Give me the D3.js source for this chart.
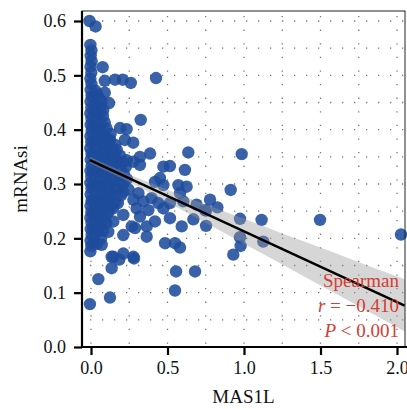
<!DOCTYPE html>
<html>
<head>
<meta charset="utf-8">
<script src="https://cdn.jsdelivr.net/npm/d3@7"></script>
<style>
  body { margin: 0; background: #fff; }
  svg text { font-family: "Liberation Serif", "DejaVu Serif", serif; }
</style>
</head>
<body>
<svg width="407" height="409"></svg>
<script>
// MAS1L (x) vs mRNAsi (y)
let pts = [
  // top pair
  [-0.010,0.600],[0.030,0.590],
  // column at zero
  [-0.004,0.556],[0.003,0.546],[-0.002,0.536],[0.004,0.526],[-0.003,0.516],[0.002,0.505],
  [-0.004,0.494],[0.003,0.484],[-0.002,0.473],[0.004,0.462],[-0.003,0.452],[0.002,0.441],
  [-0.004,0.430],[0.003,0.420],[-0.002,0.409],[0.004,0.398],[-0.003,0.388],[0.002,0.377],
  [-0.004,0.366],[0.003,0.356],[-0.002,0.345],[0.004,0.334],[-0.003,0.324],[0.002,0.313],
  [-0.004,0.302],[0.003,0.292],[-0.002,0.281],[0.004,0.270],[-0.003,0.260],[0.002,0.249],
  [-0.004,0.238],[0.003,0.228],[-0.002,0.217],[0.004,0.206],[-0.003,0.196],[0.002,0.186],
  [-0.004,0.176],
  // dense cloud next to the column
  [0.015,0.460],[0.016,0.435],[0.014,0.405],[0.015,0.380],[0.016,0.352],[0.014,0.325],
  [0.015,0.298],[0.016,0.270],[0.014,0.245],[0.015,0.218],[0.016,0.192],
  [0.028,0.472],[0.032,0.445],[0.025,0.418],[0.035,0.392],[0.028,0.366],[0.033,0.338],
  [0.026,0.312],[0.034,0.286],[0.027,0.258],[0.032,0.232],[0.026,0.206],
  [0.040,0.465],[0.041,0.432],[0.039,0.405],[0.042,0.378],[0.040,0.350],[0.041,0.323],
  [0.039,0.296],[0.042,0.268],[0.040,0.242],[0.041,0.215],[0.039,0.190],
  [0.052,0.458],[0.048,0.430],[0.055,0.404],[0.047,0.378],[0.054,0.352],[0.049,0.326],
  [0.056,0.298],[0.050,0.272],[0.053,0.246],[0.047,0.220],
  [0.065,0.440],[0.066,0.410],[0.064,0.385],[0.066,0.358],[0.065,0.332],[0.064,0.306],
  [0.066,0.279],[0.065,0.252],[0.064,0.226],[0.066,0.200],
  [0.078,0.425],[0.072,0.398],[0.080,0.372],[0.074,0.346],[0.079,0.320],[0.073,0.293],
  [0.080,0.266],[0.075,0.240],[0.078,0.214],
  [0.090,0.413],[0.091,0.388],[0.089,0.360],[0.090,0.333],[0.092,0.308],[0.089,0.282],
  [0.091,0.256],[0.090,0.232],
  [0.102,0.402],[0.097,0.375],[0.104,0.350],[0.098,0.322],[0.103,0.296],[0.099,0.270],
  [0.105,0.245],[0.100,0.228],
  [0.115,0.380],[0.116,0.353],[0.114,0.326],[0.116,0.300],[0.115,0.275],[0.114,0.250],
  [0.128,0.392],[0.133,0.365],[0.126,0.338],[0.134,0.310],[0.127,0.284],[0.132,0.258],
  [0.145,0.360],[0.146,0.333],[0.144,0.306],[0.146,0.280],[0.145,0.255],
  [0.158,0.372],[0.163,0.346],[0.156,0.320],[0.162,0.293],[0.157,0.266],
  [0.175,0.340],[0.176,0.315],[0.174,0.290],[0.176,0.265],
  [0.190,0.352],[0.195,0.327],[0.188,0.302],[0.196,0.279],
  [0.210,0.340],[0.211,0.300],[0.209,0.285],
  [0.228,0.332],[0.235,0.309],[0.245,0.290],[0.215,0.318],
  // scattered points
  [0.076,0.515],[0.090,0.490],[0.157,0.492],[0.207,0.492],[0.260,0.486],[0.425,0.495],
  [0.090,0.468],[0.118,0.449],[0.070,0.452],[0.046,0.431],[0.080,0.436],[0.325,0.418],
  [0.190,0.403],[0.233,0.401],[0.222,0.381],[0.276,0.376],[0.386,0.356],[0.636,0.358],
  [0.320,0.350],[0.168,0.363],[0.124,0.381],[0.516,0.333],[0.473,0.332],[0.614,0.326],
  [0.144,0.350],[0.233,0.344],[0.277,0.341],[0.320,0.335],[0.451,0.311],[0.418,0.304],
  [0.473,0.298],[0.571,0.298],[0.625,0.295],[0.582,0.283],[0.310,0.283],[0.396,0.274],
  [0.277,0.271],[0.342,0.268],[0.440,0.265],[0.516,0.265],[0.603,0.268],[0.690,0.262],
  [0.745,0.252],[0.298,0.255],[0.375,0.252],[0.473,0.255],[0.320,0.240],[0.418,0.231],
  [0.516,0.237],[0.669,0.235],[0.211,0.243],[0.146,0.231],[0.266,0.222],[0.288,0.219],
  [0.364,0.222],[0.593,0.222],[0.113,0.212],[0.211,0.206],[0.364,0.203],[0.070,0.188],
  [0.484,0.191],[0.549,0.191],[0.582,0.183],[0.146,0.166],[0.211,0.172],[0.277,0.166],
  [0.135,0.166],[0.185,0.161],[0.281,0.163],[0.135,0.145],[0.048,0.125],[0.124,0.091],
  [-0.007,0.079],[0.556,0.139],[0.680,0.139],[0.549,0.104],[0.930,0.170],[0.978,0.186],
  [0.985,0.355],[0.913,0.289],[0.778,0.271],[0.826,0.257],[0.752,0.251],[0.752,0.223],
  [0.974,0.236],[1.115,0.234],[0.974,0.202],[1.126,0.194],[1.497,0.234],[2.026,0.207]
];

// fitted line and its confidence band
let fitX  = [-0.007, 2.05];
let fitY  = [0.344, 0.076];
let bandX = [-0.007, 0.25, 0.5, 0.75, 1.0, 1.25, 1.5, 1.75, 2.05];
let bandLo = [0.338, 0.3035, 0.2665, 0.2285, 0.190, 0.152, 0.113, 0.075, 0.0285];
let bandHi = [0.350, 0.3175, 0.2895, 0.2625, 0.236, 0.209, 0.183, 0.156, 0.1245];

let xTicks = [0, 0.5, 1.0, 1.5, 2.0];
let yTicks = [0, 0.1, 0.2, 0.3, 0.4, 0.5, 0.6];
let xGrid = [0, 0.25, 0.5, 0.75, 1.0, 1.25, 1.5, 1.75, 2.0];
let yGrid = [0.05, 0.1, 0.15, 0.2, 0.25, 0.3, 0.35, 0.4, 0.45, 0.5, 0.55, 0.6];

let statLines = ["Spearman", "r = \u22120.410", "P < 0.001"];

const L = 82, R = 405, T = 11, B = 347;

let x = d3.scaleLinear().domain([0, 2]).range([91, 397]);
let y = d3.scaleLinear().domain([0, 0.6]).range([B, 21]);

let svg = d3.select("svg");

// dotted grid
svg.append("g").selectAll("line").data(yGrid).enter().append("line")
  .attr("x1", L + 8).attr("x2", R)
  .attr("y1", d => y(d)).attr("y2", d => y(d))
  .attr("stroke", "#777").attr("stroke-width", 1.3)
  .attr("stroke-dasharray", "1.3,10.7");
svg.append("g").selectAll("line").data(xGrid).enter().append("line")
  .attr("x1", d => x(d)).attr("x2", d => x(d))
  .attr("y1", T + 5).attr("y2", B)
  .attr("stroke", "#777").attr("stroke-width", 1.3)
  .attr("stroke-dasharray", "1.3,12.3");

// points
svg.append("g").selectAll("circle").data(pts).enter().append("circle")
  .attr("cx", d => x(d[0])).attr("cy", d => y(d[1]))
  .attr("r", 6.2)
  .attr("fill", "#1f4c9c").attr("fill-opacity", 0.88);

// band
let area = d3.area()
  .x((d, i) => x(bandX[i]))
  .y0((d, i) => y(bandLo[i]))
  .y1((d, i) => y(bandHi[i]))
  .curve(d3.curveMonotoneX);
svg.append("path").datum(bandX)
  .attr("d", area)
  .attr("fill", "#999").attr("fill-opacity", 0.4);

// fit line
svg.append("line")
  .attr("x1", x(fitX[0])).attr("y1", y(fitY[0]))
  .attr("x2", x(fitX[1])).attr("y2", y(fitY[1]))
  .attr("stroke", "#000").attr("stroke-width", 2.4);

// frame
svg.append("rect")
  .attr("x", L).attr("y", T).attr("width", R - L).attr("height", B - T)
  .attr("fill", "none").attr("stroke", "#222").attr("stroke-width", 1);

// axes
let yAxis = d3.axisLeft(y).tickValues(yTicks).tickFormat(d3.format(".1f")).tickSize(8).tickPadding(8);
let xAxis = d3.axisBottom(x).tickValues(xTicks).tickFormat(d3.format(".1f")).tickSize(8).tickPadding(6);

let gy = svg.append("g").attr("transform", `translate(${L},0)`).call(yAxis);
let gx = svg.append("g").attr("transform", `translate(0,${B})`).call(xAxis);
[gy, gx].forEach(g => {
  g.select(".domain").remove();
  g.selectAll(".tick line").attr("stroke", "#000").attr("stroke-width", 2.2);
  g.selectAll(".tick text").attr("fill", "#111").style("font-size", "18px");
});

svg.append("line").attr("x1", L).attr("x2", L).attr("y1", T).attr("y2", B + 1)
  .attr("stroke", "#000").attr("stroke-width", 2.2);
svg.append("line").attr("x1", L - 1).attr("x2", R + 2).attr("y1", B).attr("y2", B)
  .attr("stroke", "#000").attr("stroke-width", 2.2);

// titles
svg.append("text")
  .attr("transform", `translate(27,${(T + B) / 2}) rotate(-90)`)
  .attr("text-anchor", "middle")
  .style("font-size", "19px").attr("fill", "#111")
  .text("mRNAsi");
svg.append("text")
  .attr("x", (L + R) / 2).attr("y", 403)
  .attr("text-anchor", "middle")
  .style("font-size", "19px").attr("fill", "#111")
  .text("MAS1L");

// Spearman annotation
let stat = svg.append("g").attr("fill", "#d43d33").style("font-size", "19px");
stat.append("text").attr("x", 399).attr("y", 287).attr("text-anchor", "end").text(statLines[0]);
let t2 = stat.append("text").attr("x", 399).attr("y", 312).attr("text-anchor", "end");
t2.append("tspan").style("font-style", "italic").text(statLines[1].slice(0, 1));
t2.append("tspan").text(statLines[1].slice(1));
let t3 = stat.append("text").attr("x", 399).attr("y", 337).attr("text-anchor", "end");
t3.append("tspan").style("font-style", "italic").text(statLines[2].slice(0, 1));
t3.append("tspan").text(statLines[2].slice(1));
</script>
</body>
</html>
